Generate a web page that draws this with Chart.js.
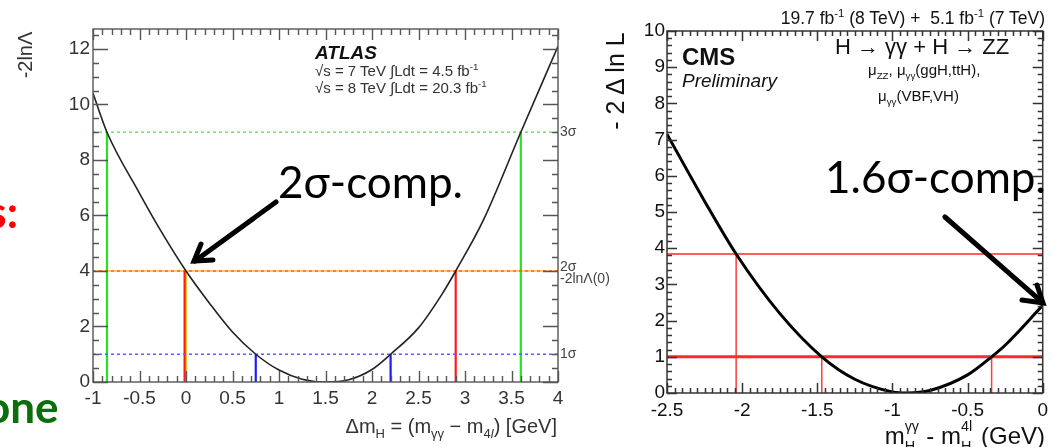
<!DOCTYPE html>
<html>
<head>
<meta charset="utf-8">
<script src="https://cdn.jsdelivr.net/npm/chart.js@4/dist/chart.umd.min.js"></script>
<style>
  html, body { margin: 0; padding: 0; background: #fff; }
  body { width: 1054px; height: 447px; position: relative; overflow: hidden;
         font-family: "Liberation Sans", Arial, sans-serif; }
  canvas { position: absolute; top: 0; }
  #atlas { left: 0; }
  #cms { left: 600px; }
  .t { position: absolute; white-space: nowrap; line-height: 1; }
  .big { font-family: Lato, "Open Sans", sans-serif; font-size: 44px; color: #000; }
  sub, sup { font-size: 65%; line-height: 0; }
  .ss { display: inline-block; position: relative; height: 1em; vertical-align: baseline; }
  .ss span { position: absolute; left: 0; font-size: 60%; line-height: 1; }
  .ss .u { top: -0.05em; }
  .ss .d { top: 1.3em; }
  svg { position: absolute; left: 0; top: 0; }
</style>
</head>
<body>
<canvas id="atlas" width="620" height="447"></canvas>
<canvas id="cms" width="454" height="447"></canvas>

<!-- slide text cut off at the left edge -->
<div class="t" style="right:1036px; top:185px; font:bold 44px Lato, sans-serif; color:#f00;">s:</div>
<div class="t" style="left:-15px; top:380px; font:bold 44px Lato, sans-serif; color:#0a6e0a;">one</div>

<!-- ATLAS labels -->
<div class="t" style="left:25px; top:55px; font-size:20px; color:#333; transform:translate(-50%,-50%) rotate(-90deg);">-2lnΛ</div>
<div class="t" style="left:315px; top:42px; font:italic bold 19px 'Liberation Sans', Arial, sans-serif; color:#111;">ATLAS</div>
<div class="t" style="left:315px; top:63px; font-size:15px; color:#333;">√s = 7 TeV ∫Ldt = 4.5 fb<sup>-1</sup></div>
<div class="t" style="left:315px; top:80px; font-size:15px; color:#333;">√s = 8 TeV ∫Ldt = 20.3 fb<sup>-1</sup></div>
<div class="t" style="right:497px; top:416px; font-size:20px; color:#333;">Δm<sub>H</sub> = (m<sub>γγ</sub> − m<sub>4<i>l</i></sub>) [GeV]</div>

<!-- CMS labels -->
<div class="t" style="left:615px; top:81px; font-size:25px; color:#111; transform:translate(-50%,-50%) rotate(-90deg);">- 2 Δ ln L</div>
<div class="t" style="right:9px; top:10px; font-size:17.5px; color:#111;">19.7 fb<sup>-1</sup> (8 TeV) +&nbsp; 5.1 fb<sup>-1</sup> (7 TeV)</div>
<div class="t" style="left:682px; top:45px; font-weight:bold; font-size:24px; color:#111;">CMS</div>
<div class="t" style="left:682px; top:71px; font-style:italic; font-size:19px; color:#111;">Preliminary</div>
<div class="t" style="left:835px; top:36px; font-size:22px; color:#111;">H → γγ + H → ZZ</div>
<div class="t" style="left:868px; top:62px; font-size:15px; color:#111;">μ<sub>ZZ</sub>, μ<sub>γγ</sub>(ggH,ttH),</div>
<div class="t" style="left:878px; top:88px; font-size:15px; color:#111;">μ<sub>γγ</sub>(VBF,VH)</div>
<div class="t" style="right:9px; top:420px; font-size:24px; color:#111;">m<span class="ss" style="width:0.62em"><span class="u">γγ</span><span class="d">H</span></span> - m<span class="ss" style="width:0.56em"><span class="u">4l</span><span class="d">H</span></span> (GeV)</div>

<!-- annotations -->
<div class="t big" style="left:278px; top:159px;">2σ-comp.</div>
<div class="t big" style="left:825px; top:154px;">1.6σ-comp.</div>
<svg width="1054" height="447">
  <g stroke="#000" stroke-width="5" stroke-linecap="round" fill="none">
    <line x1="276" y1="202" x2="195" y2="261"/>
    <polyline points="201,244 194,261 213,260"/>
    <line x1="945" y1="217" x2="1042" y2="302"/>
    <polyline points="1037,285 1043,303 1022,300"/>
  </g>
</svg>

<script>
// ATLAS: -2lnL vs delta m_H
const atlasX = [-1, -0.85, -0.5, -0.28, 0, 0.25, 0.5, 0.75, 1.0, 1.25, 1.5, 1.75, 2.0, 2.2, 2.5, 2.75, 2.9, 3.2, 3.6, 4.0];
const atlasY = [10.4, 9.0, 6.8, 5.5, 4.0, 2.85, 1.8, 1.0, 0.43, 0.1, 0.0, 0.08, 0.45, 1.0, 1.95, 3.15, 4.0, 5.85, 9.0, 12.1];
const atlasLevels = [1, 4, 9];            // 1 sigma, 2 sigma, 3 sigma
const atlasLow = [0.75, -0.015, -0.85];   // crossings left of minimum
const atlasHigh = [2.2, 2.9, 3.6];        // crossings right of minimum
const atlasLevelNames = ['1σ', '2σ', '3σ'];
const atlasZero = 4.0;                    // -2lnL at delta m = 0
const atlasXTicks = [-1, -0.5, 0, 0.5, 1, 1.5, 2, 2.5, 3, 3.5, 4];
const atlasYTicks = [0, 2, 4, 6, 8, 10, 12];

// CMS: -2 delta lnL vs m_H(gg) - m_H(4l)
const cmsX = [-2.5, -2.25, -2.04, -1.75, -1.47, -1.25, -1.0, -0.9, -0.75, -0.5, -0.34, -0.25, 0];
const cmsY = [7.15, 5.3, 3.84, 2.2, 1.0, 0.38, 0.03, 0.0, 0.07, 0.5, 1.0, 1.32, 2.42];
const cmsLevels = [1, 3.84];
const cmsLow = [-1.47, -2.04];
const cmsHigh = [-0.34, null];
const cmsXTicks = [-2.5, -2, -1.5, -1, -0.5, 0];
const cmsYTicks = [0, 1, 2, 3, 4, 5, 6, 7, 8, 9, 10];

function pts(xs, ys) {
    return xs.map((x, i) => ({x: x, y: ys[i]}));
}

function seg(x1, y1, x2, y2, color, width, dash, offset) {
    return {
        data: [{x: x1, y: y1}, {x: x2, y: y2}],
        borderColor: color,
        borderWidth: width,
        borderDash: dash || [],
        borderDashOffset: offset || 0,
        pointRadius: 0
    };
}

/** frame with ROOT style ticks pointing inwards, on all four sides */
function frameTicks(o) {
    return {
        id: 'frameTicks',
        afterDatasetsDraw(chart) {
            const {ctx, chartArea: a, scales: {x, y}} = chart;
            ctx.save();
            ctx.strokeStyle = o.color;
            ctx.lineWidth = o.width;
            ctx.strokeRect(a.left, a.top, a.right - a.left, a.bottom - a.top);
            ctx.beginPath();
            const isMajor = (v, step) => Math.abs(v / step - Math.round(v / step)) < 1e-6;
            const nx = Math.round((x.max - x.min) / o.xMinor);
            for (let i = 0; i <= nx; i++) {
                const v = x.min + i * o.xMinor;
                const px = Math.round(x.getPixelForValue(v)) + 0.5;
                const len = isMajor(v, o.xMajor) ? o.majorLen : o.minorLen;
                ctx.moveTo(px, a.bottom); ctx.lineTo(px, a.bottom - len);
                ctx.moveTo(px, a.top); ctx.lineTo(px, a.top + len);
            }
            const ny = Math.floor((y.max - y.min) / o.yMinor + 1e-6);
            for (let i = 0; i <= ny; i++) {
                const v = y.min + i * o.yMinor;
                const py = Math.round(y.getPixelForValue(v)) + 0.5;
                const len = isMajor(v, o.yMajor) ? o.yMajorLen : o.minorLen;
                ctx.moveTo(a.left, py); ctx.lineTo(a.left + len, py);
                ctx.moveTo(a.right, py); ctx.lineTo(a.right - len, py);
            }
            ctx.stroke();
            if (o.after) o.after(chart);
            ctx.restore();
        }
    };
}

function axes(xmin, xmax, xticks, ymin, ymax, yticks, yWidth, xHeight, font, color, xPad, yPad) {
    return {
        x: {
            type: 'linear', min: xmin, max: xmax,
            ticks: {font: font, color: color, padding: xPad, maxRotation: 0, autoSkip: false,
                    callback: v => String(v)},
            grid: {display: false, drawTicks: false},
            border: {display: false},
            afterBuildTicks: s => { s.ticks = xticks.map(v => ({value: v})); },
            afterFit: s => { s.height = xHeight; }
        },
        y: {
            type: 'linear', min: ymin, max: ymax,
            ticks: {font: font, color: color, padding: yPad, autoSkip: false,
                    callback: v => String(v)},
            grid: {display: false, drawTicks: false},
            border: {display: false},
            afterBuildTicks: s => { s.ticks = yticks.map(v => ({value: v})); },
            afterFit: s => { s.width = yWidth; }
        }
    };
}

const common = {
    responsive: false,
    animation: false,
    plugins: {legend: {display: false}, tooltip: {enabled: false}},
    elements: {point: {radius: 0}}
};

// ---- ATLAS ----
const atlasSets = [{
    data: pts(atlasX, atlasY),
    borderColor: '#222',
    borderWidth: 1.6,
    cubicInterpolationMode: 'monotone',
    pointRadius: 0
}];
const atlasDot = ['#5a5aff', '#ff5050', '#66ee66'];
const atlasSolid = ['#1a1aff', '#ff1a1a', '#22e622'];
atlasLevels.forEach((lv, i) => {
    atlasSets.push(seg(atlasLow[i], 0, atlasLow[i], lv, atlasSolid[i], 2.2));
    atlasSets.push(seg(atlasHigh[i], 0, atlasHigh[i], lv, atlasSolid[i], 2.2));
    atlasSets.push(seg(-1, lv, 4, lv, atlasDot[i], 1.6, [3, 3]));
});
atlasSets.push(seg(0, 0, 0, atlasZero, '#ffc22a', 2));
atlasSets.push(seg(-1, atlasZero, 4, atlasZero, '#ffc040', 1.6, [3, 3], 3));

new Chart(document.getElementById('atlas'), {
    type: 'line',
    data: {datasets: atlasSets},
    options: Object.assign({}, common, {
        layout: {padding: {left: 0, right: 62, top: 29, bottom: 0}},
        scales: axes(-1, 4, atlasXTicks, 0, 12.72, atlasYTicks, 93, 65,
                     {family: "'Liberation Sans', Arial, sans-serif", size: 19}, '#333', 5, 3)
    }),
    plugins: [frameTicks({
        color: '#555', width: 1.4,
        xMinor: 0.1, xMajor: 0.5, yMinor: 0.5, yMajor: 2,
        majorLen: 11, yMajorLen: 15, minorLen: 6,
        after(chart) {
            const {ctx, chartArea: a, scales: {y}} = chart;
            ctx.fillStyle = '#444';
            ctx.font = "14px 'Liberation Sans', Arial, sans-serif";
            ctx.textAlign = 'left';
            ctx.textBaseline = 'middle';
            ctx.fillText(atlasLevelNames[2], a.right + 2, y.getPixelForValue(atlasLevels[2]));
            ctx.fillText(atlasLevelNames[0], a.right + 2, y.getPixelForValue(atlasLevels[0]));
            ctx.textBaseline = 'alphabetic';
            ctx.fillText(atlasLevelNames[1], a.right + 2, y.getPixelForValue(atlasLevels[1]));
            ctx.textBaseline = 'top';
            ctx.fillText('-2lnΛ(0)', a.right + 2, y.getPixelForValue(atlasZero) + 1);
        }
    })]
});

// ---- CMS ----
const cmsSets = [{
    data: pts(cmsX, cmsY),
    borderColor: '#000',
    borderWidth: 3,
    cubicInterpolationMode: 'monotone',
    pointRadius: 0
}];
cmsLevels.forEach((lv, i) => {
    cmsSets.push(seg(-2.5, lv, 0, lv, '#ff2a2a', i === 0 ? 3 : 1.5));
    cmsSets.push(seg(cmsLow[i], 0, cmsLow[i], lv, '#ff3a3a', 1.5));
    if (cmsHigh[i] !== null) cmsSets.push(seg(cmsHigh[i], 0, cmsHigh[i], lv, '#ff3a3a', 1.5));
});

new Chart(document.getElementById('cms'), {
    type: 'line',
    data: {datasets: cmsSets},
    options: Object.assign({}, common, {
        layout: {padding: {left: 0, right: 9, top: 31, bottom: 0}},
        scales: axes(-2.5, 0, cmsXTicks, 0, 10, cmsYTicks, 67, 54,
                     {family: "'Liberation Sans', Arial, sans-serif", size: 19}, '#111', 6, 2)
    }),
    plugins: [frameTicks({
        color: '#333', width: 1.5,
        xMinor: 0.05, xMajor: 0.5, yMinor: 0.2, yMajor: 1,
        majorLen: 10, yMajorLen: 10, minorLen: 5
    })]
});
</script>
</body>
</html>
